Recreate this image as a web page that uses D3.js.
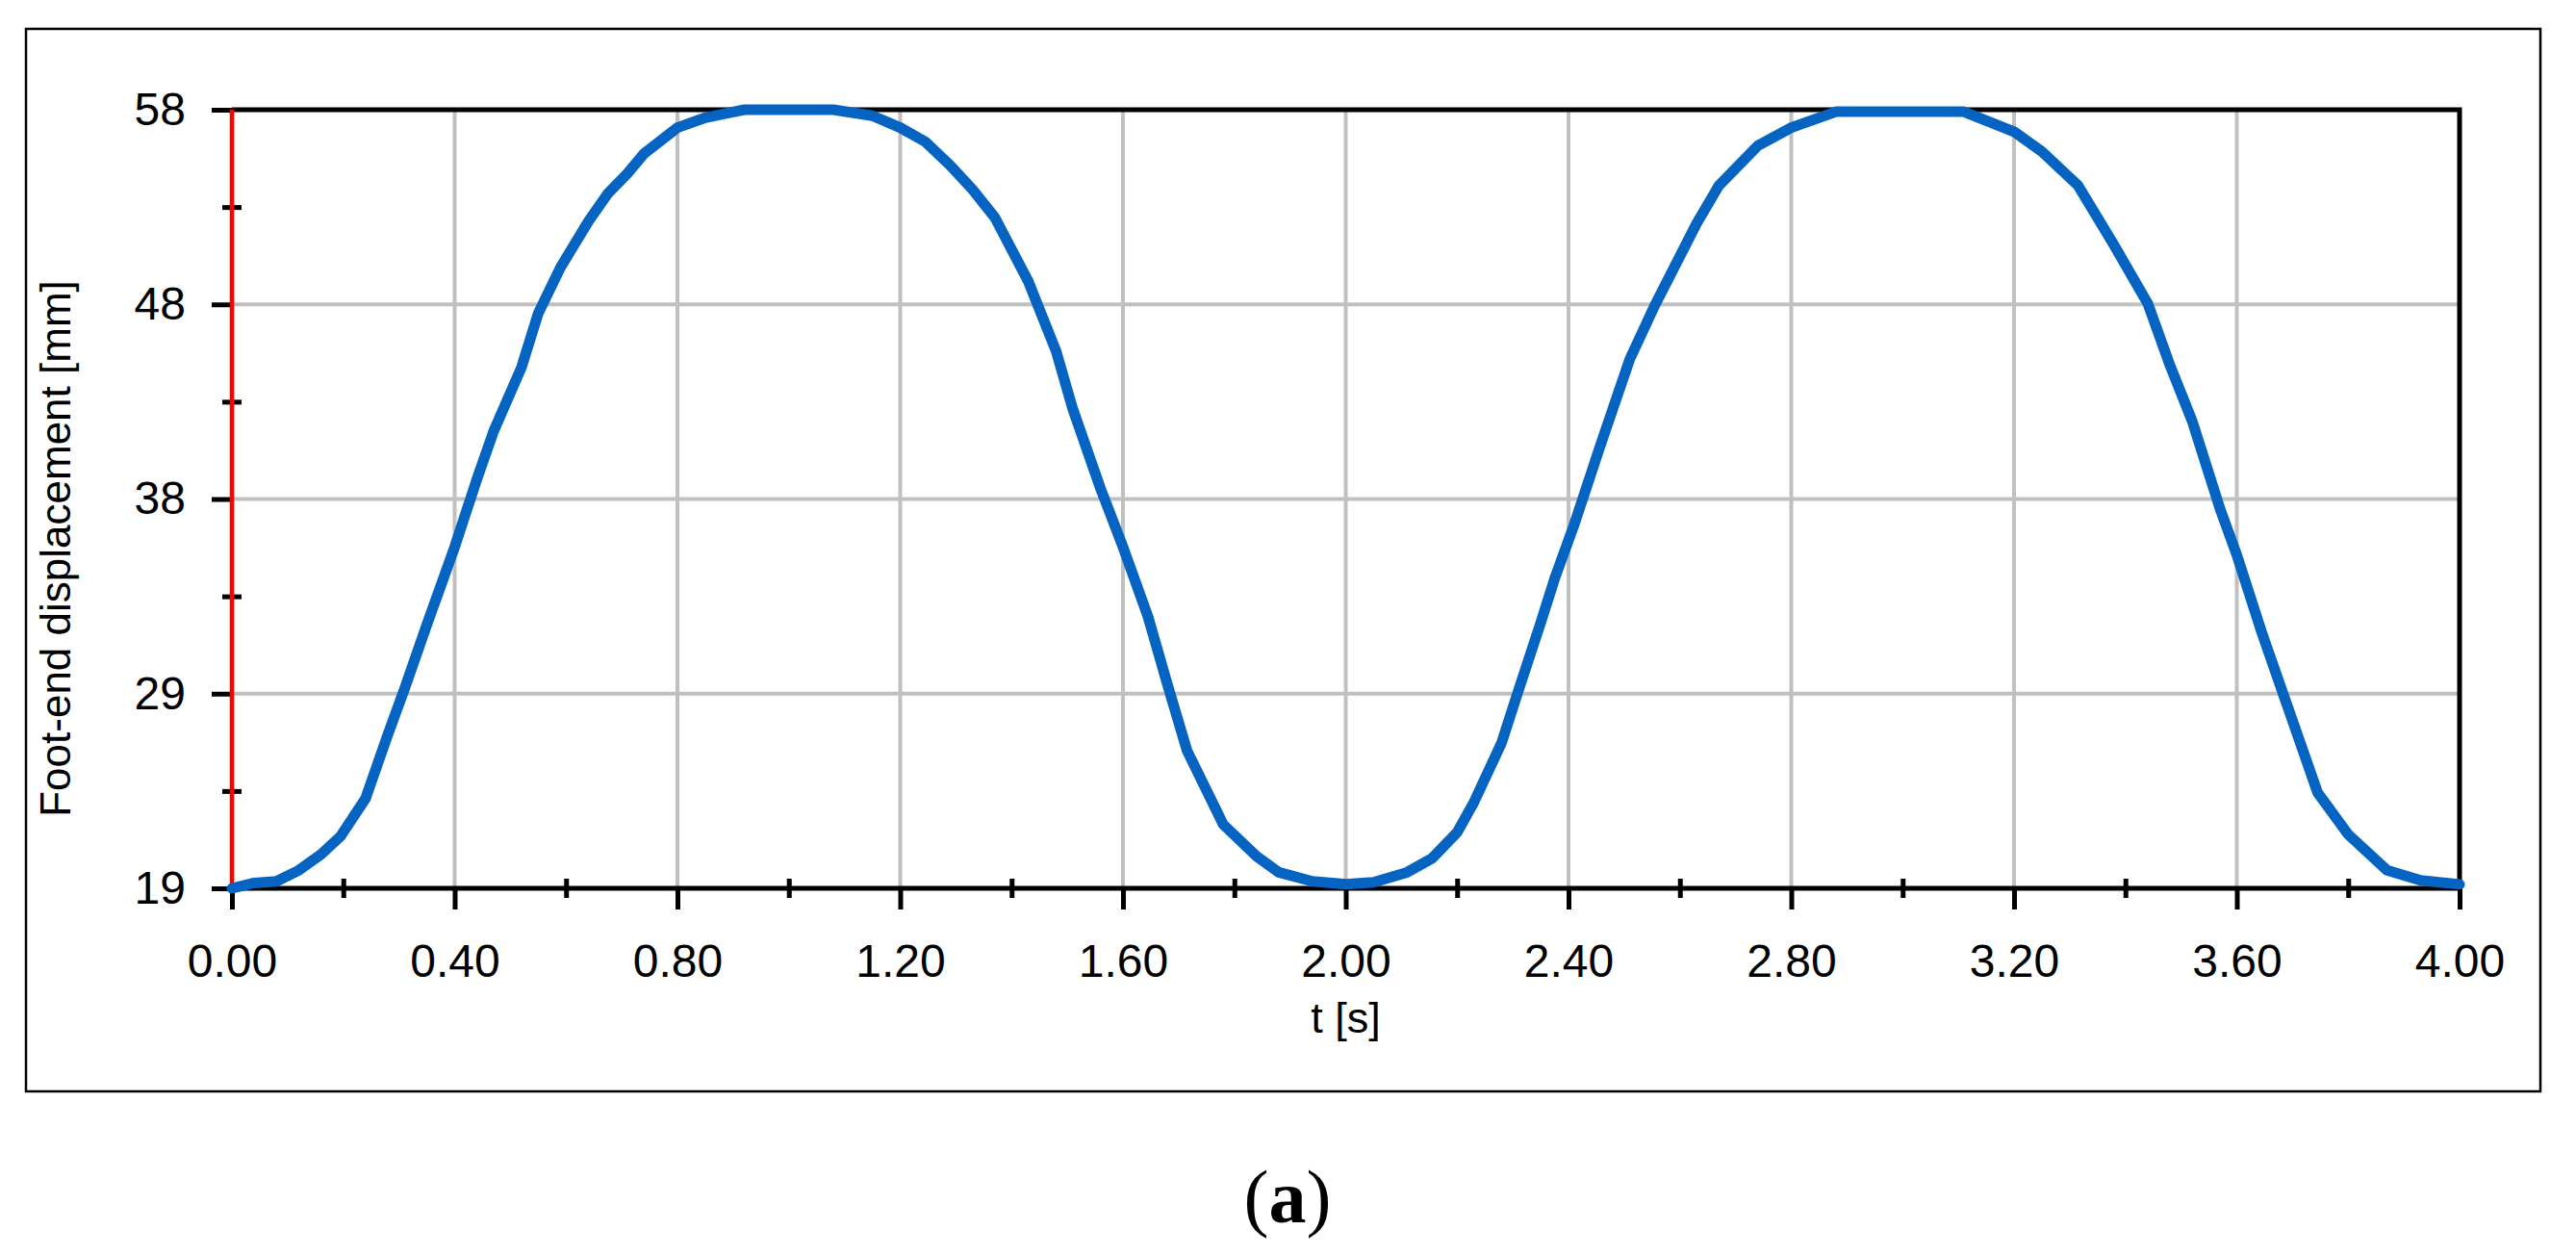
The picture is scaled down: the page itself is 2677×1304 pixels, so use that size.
<!DOCTYPE html>
<html>
<head>
<meta charset="utf-8">
<script src="https://cdn.jsdelivr.net/npm/d3@7"></script>
<style>
  html, body { margin: 0; padding: 0; background: #fff; }
  svg { display: block; }
  .tick text { font-family: "Liberation Sans", Arial, sans-serif; }
</style>
</head>
<body>
<svg id="chart"></svg>
<script>
// foot-end displacement over time
var times = [0, 0.04, 0.08, 0.12, 0.16, 0.195, 0.24, 0.28, 0.31, 0.35, 0.40, 0.44, 0.47, 0.52, 0.55,
  0.59, 0.64, 0.675, 0.71, 0.74, 0.80, 0.85, 0.92, 1.08, 1.15, 1.20, 1.245, 1.29, 1.33, 1.37,
  1.43, 1.48, 1.51, 1.56, 1.60, 1.645, 1.68, 1.715, 1.78, 1.84, 1.88, 1.94, 2.00, 2.05, 2.11,
  2.155, 2.20, 2.23, 2.28, 2.31, 2.35, 2.375, 2.41, 2.455, 2.51, 2.555, 2.63, 2.67, 2.74, 2.80,
  2.88, 3.11, 3.20, 3.25, 3.315, 3.38, 3.44, 3.48, 3.52, 3.57, 3.60, 3.645, 3.69, 3.745, 3.80,
  3.87, 3.93, 4.00];
var displacement = [19, 19.27, 19.35, 19.9, 20.7, 21.6, 23.5, 26.7, 29.0, 32.2, 36.1, 39.5, 41.9, 45.1, 47.8,
  50.1, 52.4, 53.8, 54.8, 55.8, 57.1, 57.6, 58, 58, 57.7, 57.1, 56.4, 55.2, 54.0, 52.6,
  49.4, 45.9, 43.0, 39.0, 36.1, 32.6, 29.2, 25.9, 22.2, 20.6, 19.8, 19.35, 19.2, 19.3, 19.8,
  20.5, 21.8, 23.3, 26.3, 28.9, 32.3, 34.5, 37.2, 41.0, 45.5, 48.2, 52.3, 54.2, 56.2, 57.1,
  57.9, 57.9, 56.9, 55.9, 54.2, 51.2, 48.3, 45.2, 42.4, 38.0, 35.7, 31.8, 28.2, 23.8, 21.7,
  19.9, 19.4, 19.2];

var xMajor = [0, 0.4, 0.8, 1.2, 1.6, 2.0, 2.4, 2.8, 3.2, 3.6, 4.0];
var xMinor = [0.2, 0.6, 1.0, 1.4, 1.8, 2.2, 2.6, 3.0, 3.4, 3.8];
var yMajor = [19, 28.75, 38.5, 48.25, 58];
var yLabels = ["19", "29", "38", "48", "58"];
var yMinor = [23.875, 33.625, 43.375, 53.125];

var config = { w: 2677, h: 1304, left: 241, right: 2556, top: 114, bottom: 923 };

var svg = d3.select("#chart").attr("width", config.w).attr("height", config.h);

// outer frame
svg.append("rect")
  .attr("x", 27).attr("y", 30)
  .attr("width", 2640 - 27).attr("height", 1134 - 30)
  .attr("fill", "none").attr("stroke", "#000").attr("stroke-width", 2.5);

var x = d3.scaleLinear().domain([0, 4]).range([config.left, config.right]);
var y = d3.scaleLinear().domain([19, 58]).range([config.bottom, config.top]);

// grid
var grid = svg.append("g").attr("stroke", "#c0c0c0").attr("stroke-width", 4);
grid.selectAll("line.v")
  .data(xMajor.slice(1, -1))
  .enter().append("line")
  .attr("class", "v")
  .attr("x1", function(d) { return x(d); }).attr("x2", function(d) { return x(d); })
  .attr("y1", config.top).attr("y2", config.bottom);
grid.selectAll("line.h")
  .data(yMajor.slice(1, -1))
  .enter().append("line")
  .attr("class", "h")
  .attr("y1", function(d) { return y(d); }).attr("y2", function(d) { return y(d); })
  .attr("x1", config.left).attr("x2", config.right);

// axes
var xAxis = d3.axisBottom(x).tickValues(xMajor).tickSize(22).tickPadding(36)
  .tickFormat(d3.format(".2f"));
var gx = svg.append("g").attr("transform", "translate(0," + config.bottom + ")").call(xAxis);

var xMinorAxis = d3.axisBottom(x).tickValues(xMinor).tickSize(20).tickFormat("");
var gxm = svg.append("g").attr("transform", "translate(0," + (config.bottom - 10) + ")").call(xMinorAxis);

var yAxis = d3.axisLeft(y).tickValues(yMajor).tickSize(21).tickPadding(27)
  .tickFormat(function(d, i) { return yLabels[i]; });
var gy = svg.append("g").attr("transform", "translate(" + config.left + ",0)").call(yAxis);

var yMinorAxis = d3.axisLeft(y).tickValues(yMinor).tickSize(20).tickFormat("");
var gym = svg.append("g").attr("transform", "translate(" + (config.left + 10) + ",0)").call(yMinorAxis);

[gx, gxm, gy, gym].forEach(function(g) {
  g.select(".domain").remove();
  g.selectAll(".tick line").attr("stroke", "#000").attr("stroke-width", 5);
  g.selectAll(".tick text").attr("font-size", 48).attr("fill", "#000");
});

// plot frame
var frame = svg.append("g").attr("fill", "none").attr("stroke-width", 5);
frame.append("path")
  .attr("d", "M" + config.left + "," + config.top + "H" + config.right + "V" + config.bottom + "H" + config.left)
  .attr("stroke", "#000");
frame.append("line")
  .attr("x1", config.left).attr("x2", config.left)
  .attr("y1", config.top).attr("y2", config.bottom)
  .attr("stroke", "#ff0000")
  .attr("stroke-width", 4.5);

// curve
var points = times.map(function(t, i) { return [t, displacement[i]]; });
var line = d3.line()
  .x(function(d) { return x(d[0]); })
  .y(function(d) { return y(d[1]); });

svg.append("path")
  .datum(points)
  .attr("d", line)
  .attr("fill", "none")
  .attr("stroke", "#0563c1")
  .attr("stroke-width", 11)
  .attr("stroke-linecap", "round")
  .attr("stroke-linejoin", "round");

// axis titles
svg.append("text")
  .attr("transform", "translate(73,570) rotate(-90)")
  .attr("text-anchor", "middle")
  .attr("font-family", "Liberation Sans, Arial, sans-serif")
  .attr("font-size", 44)
  .text("Foot-end displacement [mm]");

svg.append("text")
  .attr("x", (config.left + config.right) / 2)
  .attr("y", 1073)
  .attr("text-anchor", "middle")
  .attr("font-family", "Liberation Sans, Arial, sans-serif")
  .attr("font-size", 45)
  .text("t [s]");

// panel label
var cap = svg.append("text")
  .attr("x", 1338)
  .attr("y", 1270)
  .attr("text-anchor", "middle")
  .attr("font-family", "Liberation Serif, Times New Roman, serif")
  .attr("font-size", 78);
cap.append("tspan").text("(");
cap.append("tspan").attr("font-weight", "bold").text("a");
cap.append("tspan").text(")");
</script>
</body>
</html>
